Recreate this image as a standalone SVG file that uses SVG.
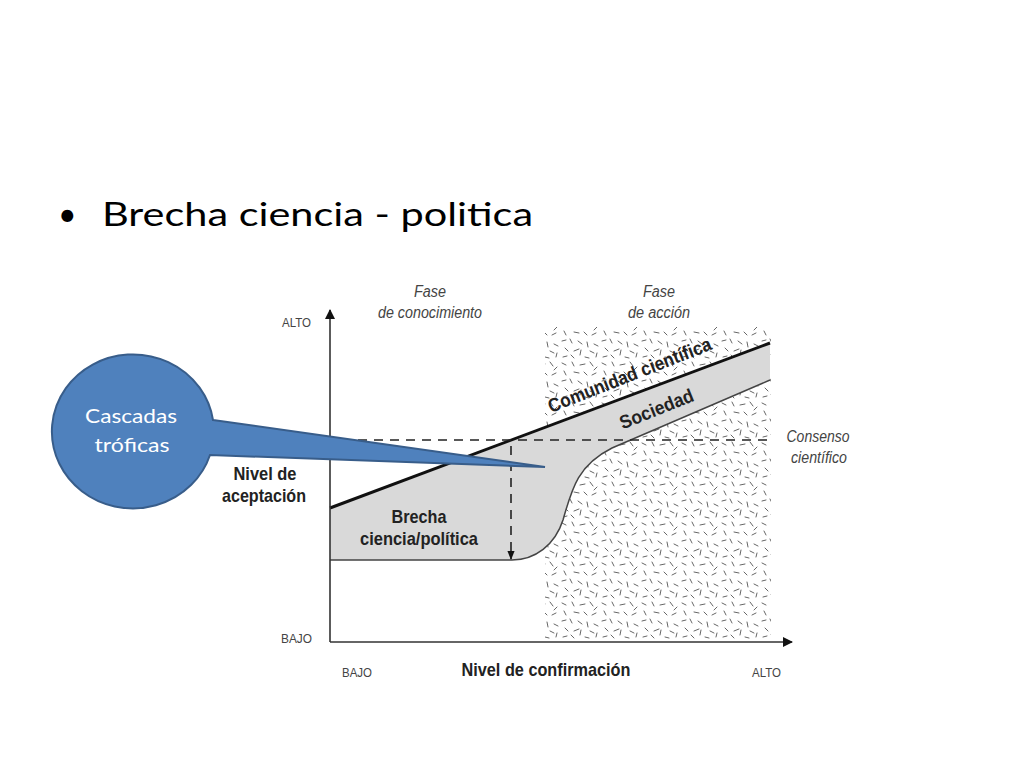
<svg xmlns="http://www.w3.org/2000/svg" width="1024" height="768" viewBox="0 0 1024 768">
<style>
.ax{stroke:#333;stroke-width:1.6;fill:none}
.lbl{font-family:"Liberation Sans",Arial,sans-serif;fill:#444}
.it{font-style:italic;font-size:16px;text-anchor:middle}
.sm{font-size:13px}
.bd{font-weight:bold;fill:#222;font-size:19px;text-anchor:middle}
.dash{stroke:#222;stroke-width:1.6;stroke-dasharray:9,7;fill:none}
.cal{font-family:Lato,"Open Sans","Liberation Sans",sans-serif;font-size:20px;fill:#fff;text-anchor:middle}
</style>
<defs>
<pattern id="tex" width="40" height="40" patternUnits="userSpaceOnUse">
<path d="M2,3 l4,2 M12,2 l2,4 M20,5 l5,-1 M30,2 l3,4 M37,7 l-3,3 M4,11 l2,4 M14,12 l5,1 M24,12 l3,3 M32,15 l4,-2 M2,21 l4,-1 M10,19 l2,4 M18,21 l4,3 M27,22 l1,5 M34,24 l4,2 M5,28 l3,3 M14,31 l5,-2 M21,30 l-1,5 M30,31 l4,2 M37,33 l-1,4 M3,37 l4,-1 M11,35 l3,3 M25,37 l4,1" stroke="#666" stroke-width="1" stroke-linecap="round" fill="none"/>
</pattern>
<marker id="ah" viewBox="0 0 10 10" refX="9" refY="5" markerWidth="10" markerHeight="10" markerUnits="userSpaceOnUse" orient="auto">
<path d="M0,0 L10,5 L0,10 Z" fill="#111"/>
</marker>
<marker id="ahs" viewBox="0 0 10 10" refX="9" refY="5" markerWidth="9" markerHeight="9" markerUnits="userSpaceOnUse" orient="auto">
<path d="M0,1 L10,5 L0,9 Z" fill="#111"/>
</marker>
</defs>
<rect width="1024" height="768" fill="#fff"/>
<g id="title">
<text x="58" y="226" font-family="Lato,'Liberation Sans',sans-serif" font-size="32" fill="#000">•</text>
<text x="102" y="226" font-family="Lato,'Liberation Sans',sans-serif" font-size="32" fill="#000" textLength="431" lengthAdjust="spacingAndGlyphs">Brecha ciencia - politica</text>
</g>
<g id="texture">
<rect x="545" y="327" width="226" height="313" fill="url(#tex)"/>
</g>
<g id="band">
<path d="M330,508 L770,343 L770,380 L612,448 C578,465 572,488 563,520 C555,545 535,560 512,560 L330,560 Z" fill="#d9d9d9"/>
<path d="M330,560 L512,560 C535,560 555,545 563,520 C572,488 578,465 612,448 L770,380" stroke="#444" stroke-width="1.5" fill="none"/>
<line x1="330" y1="508" x2="770" y2="343" stroke="#111" stroke-width="3"/>
</g>
<g id="connectors">
<line class="ax" x1="330" y1="642" x2="330" y2="310" marker-end="url(#ah)"/>
<line class="ax" x1="330" y1="642" x2="792" y2="642" marker-end="url(#ah)"/>
<line class="dash" x1="358" y1="440" x2="770" y2="440"/>
<line class="dash" x1="511" y1="446" x2="511" y2="559" marker-end="url(#ahs)"/>
</g>
<g id="labels">
<text class="lbl it" x="430" y="297" textLength="32" lengthAdjust="spacingAndGlyphs">Fase</text>
<text class="lbl it" x="430" y="318" textLength="104" lengthAdjust="spacingAndGlyphs">de conocimiento</text>
<text class="lbl it" x="659" y="297" textLength="32" lengthAdjust="spacingAndGlyphs">Fase</text>
<text class="lbl it" x="659" y="318" textLength="62" lengthAdjust="spacingAndGlyphs">de acción</text>
<text class="lbl it" x="818" y="442" textLength="63" lengthAdjust="spacingAndGlyphs">Consenso</text>
<text class="lbl it" x="819" y="463" textLength="56" lengthAdjust="spacingAndGlyphs">científico</text>
<text class="lbl sm" x="282" y="327" textLength="29" lengthAdjust="spacingAndGlyphs">ALTO</text>
<text class="lbl sm" x="281" y="643" textLength="31" lengthAdjust="spacingAndGlyphs">BAJO</text>
<text class="lbl sm" x="342" y="677" textLength="30" lengthAdjust="spacingAndGlyphs">BAJO</text>
<text class="lbl sm" x="752" y="677" textLength="29" lengthAdjust="spacingAndGlyphs">ALTO</text>
<text class="lbl bd" x="546" y="676" textLength="169" lengthAdjust="spacingAndGlyphs">Nivel de confirmación</text>
<text class="lbl bd" x="265" y="480" textLength="63" lengthAdjust="spacingAndGlyphs">Nivel de</text>
<text class="lbl bd" x="264" y="502" textLength="84" lengthAdjust="spacingAndGlyphs">aceptación</text>
<text class="lbl bd" x="419" y="523" textLength="55" lengthAdjust="spacingAndGlyphs">Brecha</text>
<text class="lbl bd" x="419" y="545" textLength="118" lengthAdjust="spacingAndGlyphs">ciencia/política</text>
<text class="lbl bd" transform="translate(632,381) rotate(-21.5)" x="0" y="0" textLength="174" lengthAdjust="spacingAndGlyphs">Comunidad científica</text>
<text class="lbl bd" transform="translate(659,415) rotate(-22)" x="0" y="0" textLength="78" lengthAdjust="spacingAndGlyphs">Sociedad</text>
</g>
<g id="callout">
<path d="M213,420 L545,467 L210,455 A81,77 0 1 1 213,420 Z" fill="#4f81bd" stroke="#385d8a" stroke-width="2"/>
<text class="cal" x="131" y="423" textLength="92" lengthAdjust="spacingAndGlyphs">Cascadas</text>
<text class="cal" x="132" y="452" textLength="75" lengthAdjust="spacingAndGlyphs">tróficas</text>
</g>
</svg>
